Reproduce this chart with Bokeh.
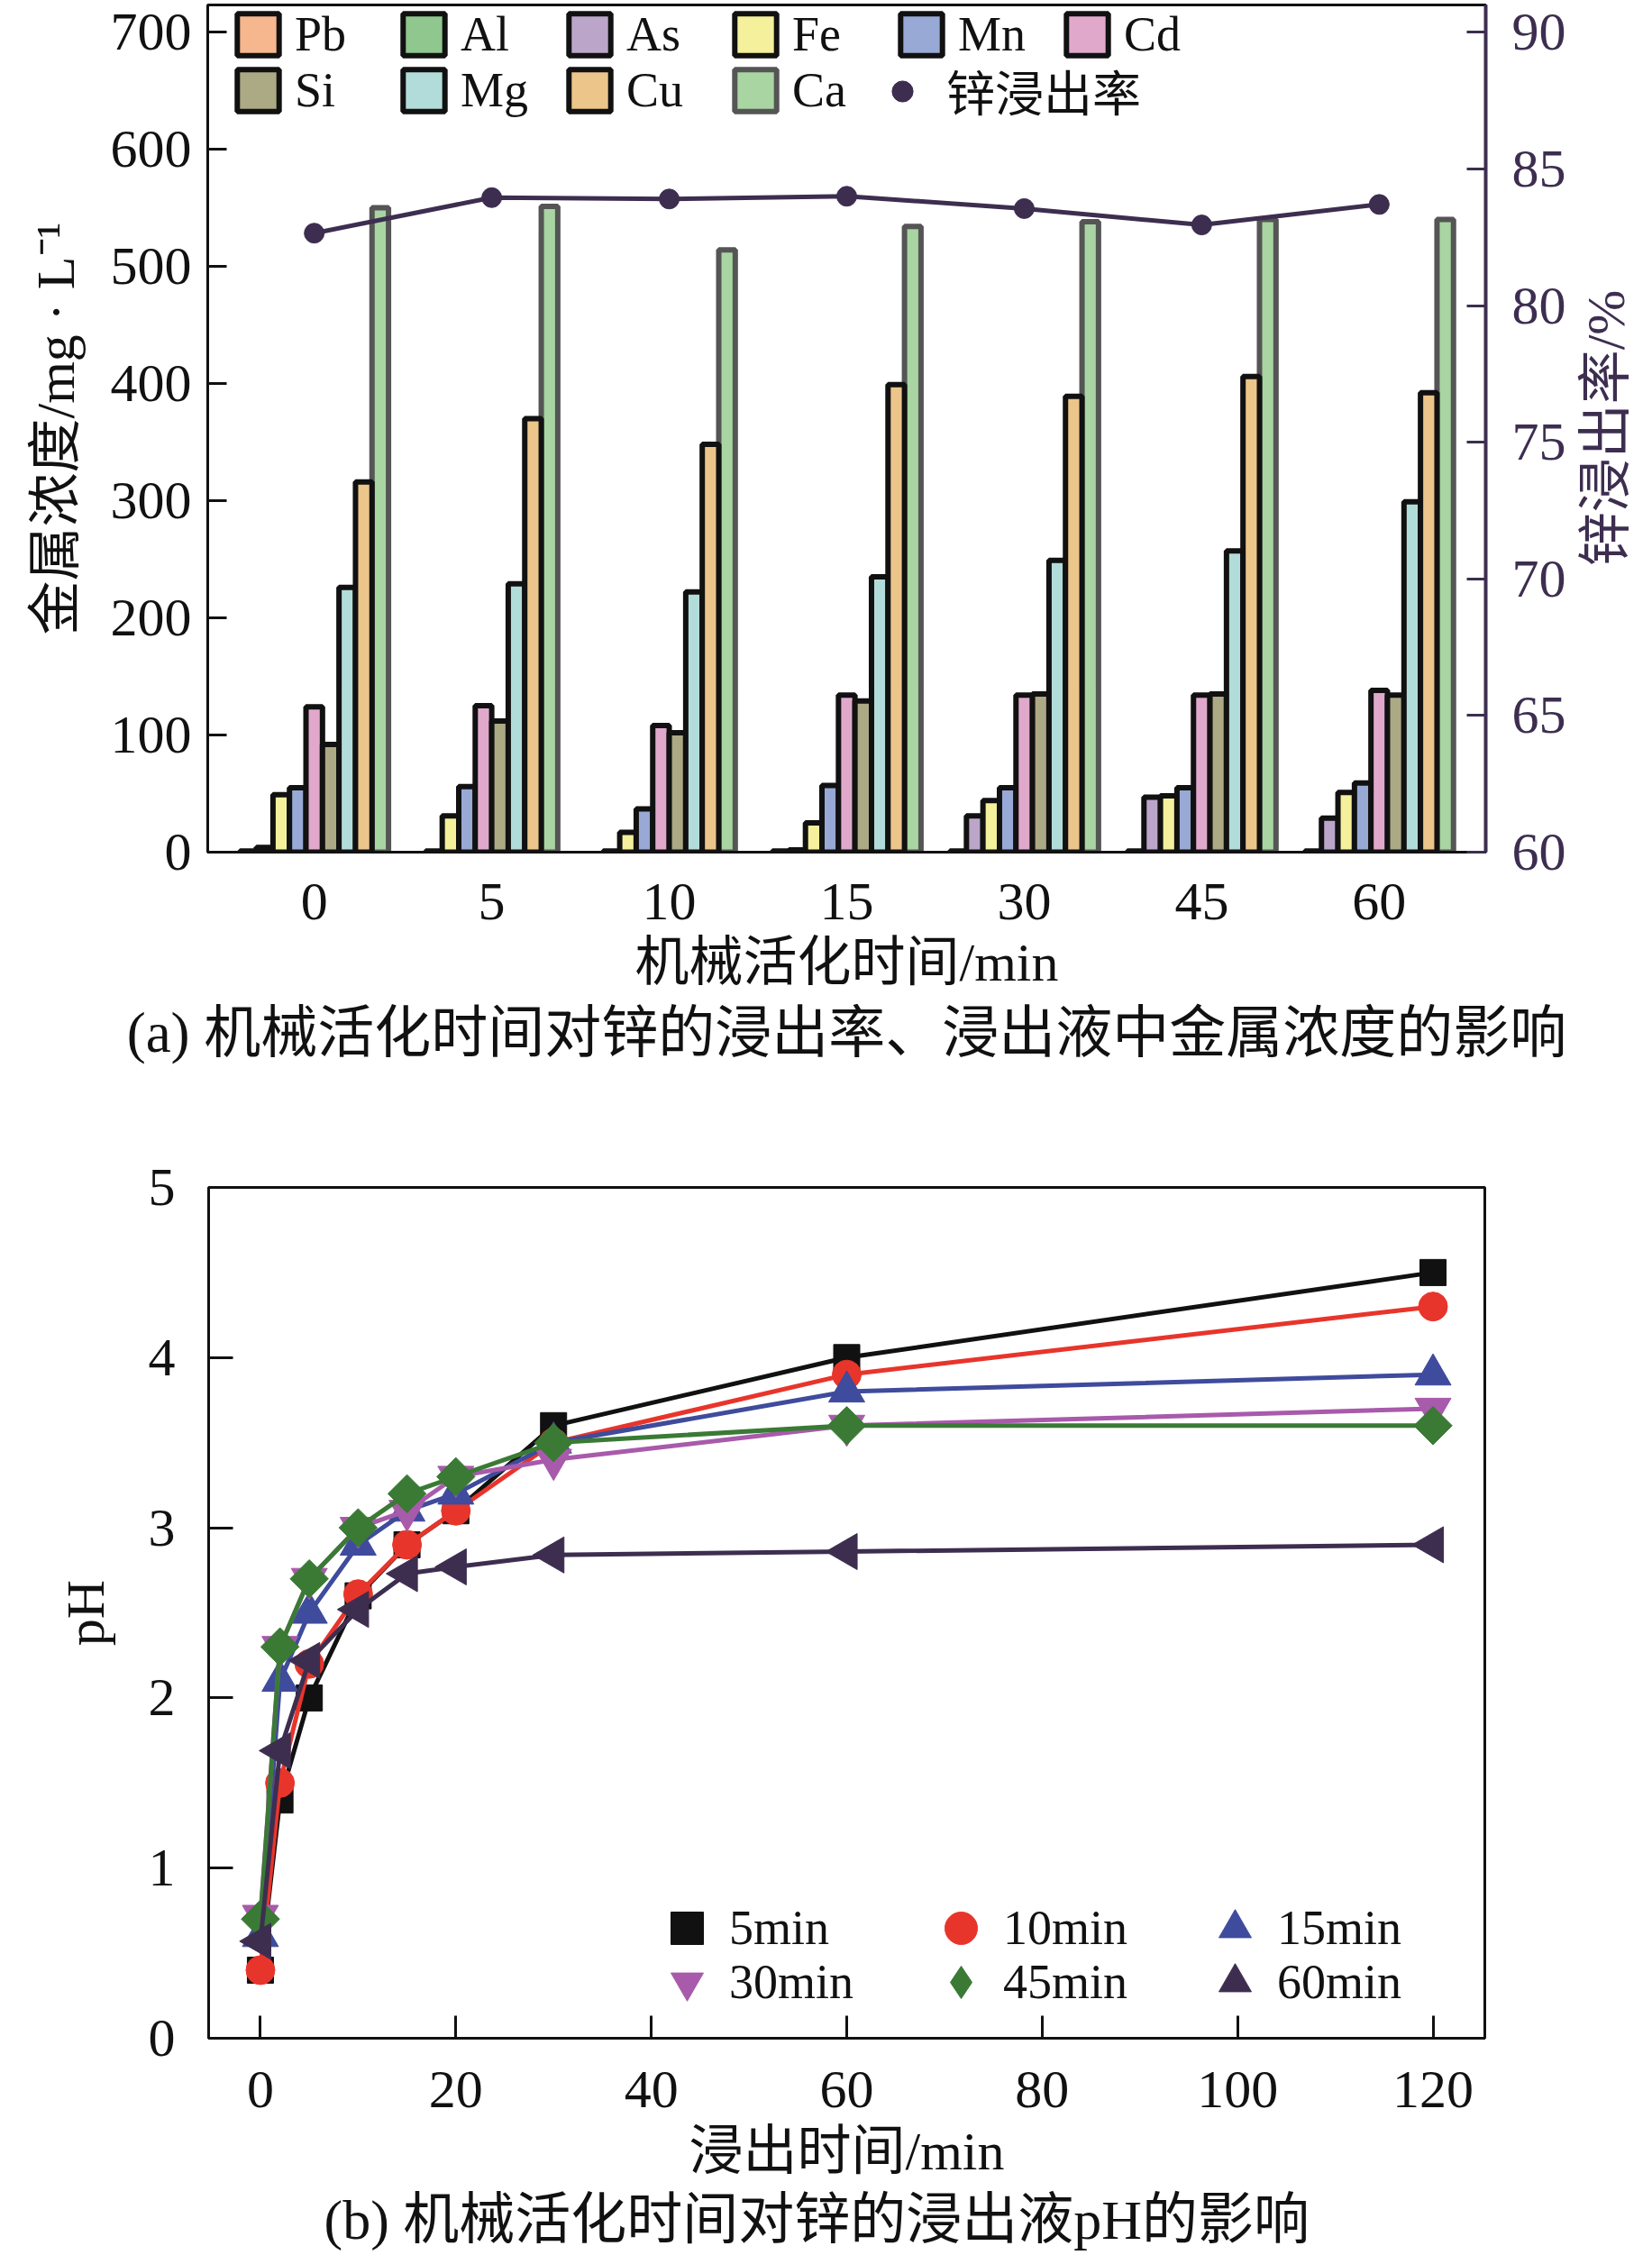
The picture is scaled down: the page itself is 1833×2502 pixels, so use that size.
import numpy as np
from bokeh.plotting import figure
from bokeh.models import (Range1d, LinearAxis, FixedTicker, Legend, LegendItem,
                          ColumnDataSource, Title, Div)
from bokeh.layouts import column, row
from bokeh.embed import file_html
from bokeh.resources import INLINE

FONT = "Liberation Serif, Noto Sans CJK SC"
NUMFONT = "Liberation Serif"
PURPLE = "#3d2e50"
INK = "#111111"

# ---------------- data (a) ----------------
activation = ["0", "5", "10", "15", "30", "45", "60"]
metals = ["Pb", "Al", "As", "Fe", "Mn", "Cd", "Si", "Mg", "Cu", "Ca"]
Pb = [1, 1, 1, 1, 1, 1, 1]
Al = [None, None, None, None, None, None, None]
As = [4, None, None, 2, 31, 47, 29]
Fe = [49, 31, 17, 25, 44, 48, 51]
Mn = [55, 56, 37, 57, 55, 55, 59]
Cd = [124, 125, 108, 134, 134, 134, 138]
Si = [92, 112, 102, 129, 135, 135, 134]
Mg = [226, 229, 222, 235, 249, 257, 299]
Cu = [316, 370, 348, 399, 389, 406, 392]
Ca = [550, 551, 514, 534, 538, 540, 540]
zn_rate = [82.65, 83.95, 83.9, 84.0, 83.55, 82.95, 83.7]

# ---------------- data (b) ----------------
leach_time = [0, 2, 5, 10, 15, 20, 30, 60, 120]
ph_5 = [0.40, 1.40, 2.00, 2.60, 2.90, 3.10, 3.60, 4.00, 4.50]
ph_10 = [0.40, 1.50, 2.20, 2.61, 2.90, 3.10, 3.50, 3.90, 4.30]
ph_15 = [0.60, 2.10, 2.50, 2.90, 3.10, 3.20, 3.50, 3.80, 3.90]
ph_30 = [0.72, 2.30, 2.70, 3.00, 3.10, 3.30, 3.40, 3.60, 3.70]
ph_45 = [0.70, 2.30, 2.70, 3.00, 3.20, 3.30, 3.50, 3.60, 3.60]
ph_60 = [0.57, 1.69, 2.22, 2.52, 2.73, 2.77, 2.84, 2.86, 2.90]
series_labels = ["5min", "10min", "15min", "30min", "45min", "60min"]

metal_data = dict(Pb=Pb, Al=Al, As=As, Fe=Fe, Mn=Mn, Cd=Cd, Si=Si, Mg=Mg, Cu=Cu, Ca=Ca)
metal_fill = dict(Pb="#f6b78e", Al="#8fc78f", As="#bba6c9", Fe="#f4f09b",
                  Mn="#97a9d4", Cd="#e0a9cc", Si="#aca985", Mg="#b2dcd9",
                  Cu="#ecc58b", Ca="#a8d5a2")
metal_line = {m: INK for m in metals}
metal_line["Ca"] = "#555555"

# ---------------- figure (a) ----------------
HA = 1230
WA = 1750
TOP_A = 5
LEFT_A = 230
FRAME_A_H = 940
FRAME_A_W = 1418
pa = figure(width=WA, height=HA, title=None,
            x_range=Range1d(-0.6, 6.6), y_range=Range1d(0, 723),
            output_backend="svg", toolbar_location=None,
            min_border_left=LEFT_A, min_border_right=WA - LEFT_A - FRAME_A_W,
            min_border_top=TOP_A, min_border_bottom=HA - TOP_A - FRAME_A_H)
pa.extra_y_ranges = {"rate": Range1d(60, 91)}
pa.xgrid.visible = False
pa.ygrid.visible = False
pa.outline_line_color = INK
pa.outline_line_width = 3

slot = 0.093
positions = {m: [] for m in metals}
tops = {m: [] for m in metals}
for i in range(len(activation)):
    present = [m for m in metals if metal_data[m][i] is not None]
    n = len(present)
    for j, m in enumerate(present):
        positions[m].append(i + (j - (n - 1) / 2) * slot)
        tops[m].append(metal_data[m][i])

bar_r = {}
draw_order = ["Ca"] + [m for m in metals if m != "Ca"]
for m in draw_order:
    xs, ts = positions[m], tops[m]
    if not xs:  # series without measured values: legend entry only
        xs, ts = [np.nan], [np.nan]
    src = ColumnDataSource(dict(x=xs, top=ts))
    bar_r[m] = pa.vbar(x="x", top="top", bottom=0, width=slot, source=src,
                       fill_color=metal_fill[m], line_color=metal_line[m],
                       line_width=6)

xi = list(range(len(activation)))
pa.line(xi, zn_rate, y_range_name="rate", line_color=PURPLE, line_width=5)
zn_pts = pa.scatter(xi, zn_rate, y_range_name="rate", size=22,
                    fill_color=PURPLE, line_color=PURPLE)

def style_axis(ax, color=INK, tick_in=21):
    ax.axis_line_color = color
    ax.axis_line_width = 3
    ax.major_tick_line_color = color
    ax.major_tick_line_width = 3
    ax.major_tick_in = tick_in
    ax.major_tick_out = 0
    ax.minor_tick_line_color = None
    ax.major_label_text_font = NUMFONT
    ax.major_label_text_font_size = "60px"
    ax.major_label_text_color = color
    ax.axis_label_text_font = FONT
    ax.axis_label_text_font_size = "60px"
    ax.axis_label_text_font_style = "normal"
    ax.axis_label_text_color = color

xa = pa.xaxis[0]
style_axis(xa)
xa.ticker = FixedTicker(ticks=xi)
xa.major_label_overrides = {i: s for i, s in enumerate(activation)}
xa.major_tick_line_color = None
xa.major_label_standoff = 35
xa.axis_label = "机械活化时间/min"
xa.axis_label_standoff = 12

ya = pa.yaxis[0]
style_axis(ya)
ya.ticker = FixedTicker(ticks=list(range(0, 701, 100)))
ya.major_label_standoff = 18
ya.axis_label = "金属浓度/mg · L⁻¹"
ya.axis_label_standoff = 25

ra = LinearAxis(y_range_name="rate", ticker=FixedTicker(ticks=list(range(60, 91, 5))))
style_axis(ra, color=PURPLE)
ra.axis_line_width = 4
ra.major_label_standoff = 29
pa.add_layout(ra, "right")

def make_legend(items, loc, gw, lw, standoff, font_size, font):
    return Legend(items=items, orientation="horizontal", location=loc,
                  border_line_color=None, background_fill_alpha=0,
                  padding=0, margin=0, spacing=0, label_standoff=standoff,
                  glyph_width=gw, glyph_height=gw, label_width=lw,
                  label_height=20,
                  label_text_font=font, label_text_font_size=font_size,
                  label_text_color=INK)

# legend rows centred 34 px and 96 px below the frame top
leg_a1 = make_legend([LegendItem(label=m, renderers=[bar_r[m]]) for m in metals[:6]],
                     (27, FRAME_A_H - 34 - 30), 58, 114, 12, "54px", NUMFONT)
leg_a2 = make_legend([LegendItem(label=m, renderers=[bar_r[m]]) for m in metals[6:]],
                     (27, FRAME_A_H - 96 - 30), 58, 114, 12, "54px", NUMFONT)
leg_a3 = make_legend([LegendItem(label="锌浸出率", renderers=[zn_pts])],
                     (742, FRAME_A_H - 96 - 39), 58, 114, 20, "54px", FONT)
pa.add_layout(leg_a1)
pa.add_layout(leg_a2)
pa.add_layout(leg_a3)

cap_a = Title(text="(a) 机械活化时间对锌的浸出率、浸出液中金属浓度的影响", align="center",
              text_font=FONT, text_font_size="63px", text_font_style="normal",
              text_color=INK, standoff=10)
pa.add_layout(cap_a, "below")

WD = 1825 - WA
right_label = Div(width=WD, height=HA, text=(
    '<div style="position:relative;width:%dpx;height:900px;">'
    '<span style="position:absolute;left:27px;top:470px;'
    'transform:translate(-50%%,-50%%) rotate(-90deg);white-space:nowrap;'
    'font-family:\'Liberation Serif\',\'Noto Sans CJK SC\';font-size:60px;'
    'line-height:1;color:%s;">锌浸出率/%%</span></div>') % (WD, PURPLE))

# ---------------- figure (b) ----------------
HB = 1260
WB = 1825
TOP_B = 77
LEFT_B = 231
FRAME_B_H = 944
FRAME_B_W = 1416
pb = figure(width=WB, height=HB, title=None,
            x_range=Range1d(-5.3, 125.3), y_range=Range1d(0, 5),
            output_backend="svg", toolbar_location=None,
            min_border_left=LEFT_B, min_border_right=WB - LEFT_B - FRAME_B_W,
            min_border_top=TOP_B, min_border_bottom=HB - TOP_B - FRAME_B_H)
pb.xgrid.visible = False
pb.ygrid.visible = False
pb.outline_line_color = INK
pb.outline_line_width = 3

xb = pb.xaxis[0]
style_axis(xb, tick_in=25)
xb.ticker = FixedTicker(ticks=list(range(0, 121, 20)))
xb.major_label_standoff = 37
xb.axis_label = "浸出时间/min"
xb.axis_label_standoff = 13

yb = pb.yaxis[0]
style_axis(yb, tick_in=27)
yb.ticker = FixedTicker(ticks=list(range(0, 6)))
yb.major_label_standoff = 37
yb.axis_label = "pH"
yb.axis_label_standoff = 34

ph_all = [ph_5, ph_10, ph_15, ph_30, ph_45, ph_60]
ph_colors = ["#111111", "#e8352b", "#3f4b9c", "#a85aab", "#3a7a35", "#3d2e50"]
ph_markers = ["square", "circle", "triangle", "inverted_triangle", "square", "triangle"]
ph_angles = [0, 0, 0, 0, np.pi / 4, np.pi / 2]
ph_sizes = [29, 32, 40, 40, 30, 40]
legend_markers = ["square", "circle", "triangle", "inverted_triangle", "diamond", "triangle"]

pts = []
for vals, col, mk, ang, sz, lmk in zip(ph_all, ph_colors, ph_markers, ph_angles,
                                       ph_sizes, legend_markers):
    pb.line(leach_time, vals, line_color=col, line_width=5)
    r = pb.scatter(leach_time, vals, marker=mk, size=sz, angle=ang,
                   fill_color=col, line_color=col)
    if lmk != mk:
        # symbol shown in the legend only (no data drawn)
        r = pb.scatter([np.nan], [np.nan], marker=lmk, size=sz,
                       fill_color=col, line_color=col)
    pts.append(r)

leg_b1 = make_legend([LegendItem(label=l, renderers=[r]) for l, r in zip(series_labels[:3], pts[:3])],
                     (486, 122 - 45), 90, 212, 2, "54px", NUMFONT)
leg_b2 = make_legend([LegendItem(label=l, renderers=[r]) for l, r in zip(series_labels[3:], pts[3:])],
                     (486, 62 - 45), 90, 212, 2, "54px", NUMFONT)
pb.add_layout(leg_b1)
pb.add_layout(leg_b2)

cap_b = Title(text="(b) 机械活化时间对锌的浸出液pH的影响", align="left", offset=128,
              text_font=FONT, text_font_size="62px", text_font_style="normal",
              text_color=INK, standoff=8)
pb.add_layout(cap_b, "below")

layout = column(row(pa, right_label, spacing=0), pb, spacing=0)
open("out.html", "w").write(file_html(layout, INLINE))
